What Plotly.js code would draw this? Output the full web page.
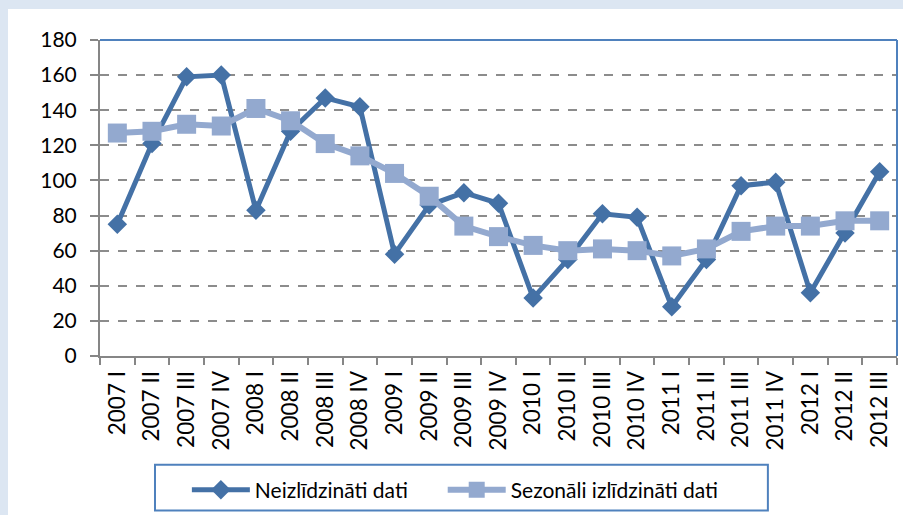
<!DOCTYPE html>
<html>
<head>
<meta charset="utf-8">
<script src="https://cdn.plot.ly/plotly-3.0.1.min.js"></script>
<style>
html,body{margin:0;padding:0;background:#dce6f2;width:903px;height:515px;overflow:hidden;}
#chart{position:absolute;left:8px;top:9px;width:895px;height:506px;}
</style>
</head>
<body>
<div id="chart"></div>
<script>
var categories = ["2007 I","2007 II","2007 III","2007 IV","2008 I","2008 II","2008 III","2008 IV",
  "2009 I","2009 II","2009 III","2009 IV","2010 I","2010 II","2010 III","2010 IV",
  "2011 I","2011 II","2011 III","2011 IV","2012 I","2012 II","2012 III"];
var unadjusted = [75,121,159,160,83,128,147,142,58,86,93,87,33,55,81,79,28,55,97,99,36,70,105];
var seasonal = [127,128,132,131,141,134,121,114,104,91,74,68,63,60,61,60,57,61,71,74,74,77,77];
var seriesNames = ["Neizlīdzināti dati","Sezonāli izlīdzināti dati"];
var yTicks = [0,20,40,60,80,100,120,140,160,180];

var dark = "#4471a6", light = "#93a9cf";
var fontFam = "Lato, 'Noto Sans', sans-serif";

var traces = [
  {x: categories, y: unadjusted, name: seriesNames[0], type: "scatter", mode: "lines+markers",
   legend: "legend",
   line: {color: dark, width: 5}, marker: {symbol: "diamond", size: 15, color: dark}},
  {x: categories, y: seasonal, name: seriesNames[1], type: "scatter", mode: "lines+markers",
   legend: "legend2",
   line: {color: light, width: 6}, marker: {symbol: "square", size: 19, color: light}}
];

var legendBase = {orientation: "h", xanchor: "left", y: -0.42, yanchor: "middle",
  bgcolor: "rgba(0,0,0,0)", borderwidth: 0, itemwidth: 58,
  font: {family: fontFam, size: 21, color: "#000"}};

var layout = {
  width: 895, height: 506,
  margin: {l: 92, r: 6, t: 31, b: 158, pad: 0},
  paper_bgcolor: "#ffffff", plot_bgcolor: "#ffffff",
  font: {family: fontFam, size: 21, color: "#000"},
  showlegend: true,
  legend: Object.assign({}, legendBase, {x: 0.109}),
  legend2: Object.assign({}, legendBase, {x: 0.43}),
  xaxis: {type: "category", range: [-0.5, categories.length - 0.5], autorange: false,
    tickson: "boundaries", ticks: "outside", ticklen: 7, tickwidth: 2,
    tickcolor: "#868686", showline: true, linecolor: "#868686", linewidth: 2,
    tickangle: -90, showgrid: false, zeroline: false, fixedrange: true, ticklabelstandoff: 4,
    tickfont: {family: fontFam, size: 22.5, color: "#000"}},
  xaxis2: {type: "category", categoryarray: categories, categoryorder: "array",
    range: [-0.5, categories.length - 0.5], autorange: false, overlaying: "x", anchor: "y",
    side: "bottom", tickson: "boundaries", ticks: "inside", ticklen: 6, tickwidth: 2,
    tickcolor: "#868686", showline: false, showticklabels: false, showgrid: false,
    zeroline: false, fixedrange: true},
  yaxis: {range: [0, 180], tickvals: yTicks, ticks: "outside", ticklen: 8, tickwidth: 2,
    tickcolor: "#868686", showline: true, linecolor: "#868686", linewidth: 2,
    showgrid: true, gridcolor: "#8c8c8c", gridwidth: 2, griddash: "dash",
    zeroline: false, fixedrange: true, ticklabelstandoff: 9,
    tickfont: {family: fontFam, size: 21, color: "#000"}},
  shapes: [
    {type: "line", xref: "paper", yref: "paper", x0: 0, x1: 1, y0: 1, y1: 1,
     line: {color: "#4f81bd", width: 2}},
    {type: "line", xref: "paper", yref: "paper", x0: 1, x1: 1, y0: 0, y1: 1,
     line: {color: "#4f81bd", width: 2}},
    {type: "rect", xref: "paper", yref: "paper", x0: 0.069, x1: 0.838, y0: -0.489, y1: -0.344,
     line: {color: "#4f81bd", width: 2}, fillcolor: "rgba(0,0,0,0)", layer: "above"}
  ]
};

Plotly.newPlot("chart", traces, layout, {displayModeBar: false, staticPlot: true});
</script>
</body>
</html>
